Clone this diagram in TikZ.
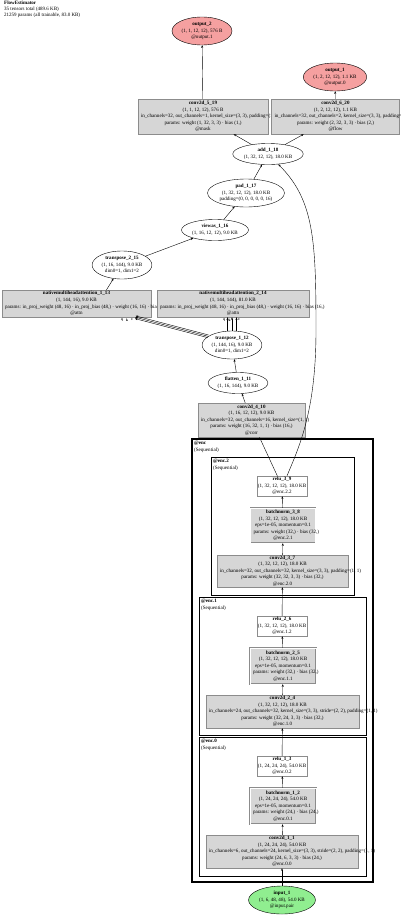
\documentclass[tikz,border=0pt]{standalone}
\usepackage{fontspec}
\setmainfont{Liberation Serif}
\usetikzlibrary{arrows.meta,shapes.geometric}
\newcommand{\zl}[1]{\makebox[0pt][c]{#1}}
\newcommand{\zll}[2]{\makebox[0pt][l]{\hspace*{-#1pt}#2}}
\definecolor{boxfill}{HTML}{D6D6D6}
\definecolor{boxline}{HTML}{8C8C8C}
\definecolor{outfill}{HTML}{F5A0A0}
\definecolor{infill}{HTML}{90EE90}
\tikzset{
  every node/.style={font=\fontsize{5.05}{6.6}\selectfont},
  gbox/.style={rectangle, draw=boxline, fill=boxfill, line width=0.45pt, inner sep=0pt, align=center},
  wbox/.style={gbox, fill=white},
  dbox/.style={gbox, double=white, double distance=0.9pt},
  oval/.style={ellipse, draw=black, line width=0.4pt, inner sep=0.8pt, align=center},
  edge/.style={draw=black, line width=0.4pt, -{Stealth[length=2.6pt,width=2pt]}},
  cluster/.style={draw=black, line width=1pt},
  clabel/.style={anchor=north west, align=left, inner sep=0pt},
  elabel/.style={inner sep=0pt, font=\fontsize{3.6}{4}\selectfont\bfseries}
}
\begin{document}
\begin{tikzpicture}[x=1pt,y=-1pt]
\useasboundingbox (0,0) rectangle (400,916);
\fill[white] (0,0) rectangle (400,916);

% title
\node[anchor=north west, align=left, inner sep=0pt, font=\fontsize{5}{5.7}\selectfont] (title) at (4,1)
  {\textbf{FlowEstimator}\\35 tensors total (489.6 KB)\\21259 params (all trainable, 83.0 KB)};

% clusters
\draw[cluster, line width=1.6pt] (192,439) rectangle (373,882);
\draw[cluster] (211,457) rectangle (354,595);
\draw[cluster] (199,597) rectangle (366,735);
\draw[cluster] (199,737) rectangle (366,876);
\node[clabel] (lenc) at (194,441) {\textbf{@enc}\\(Sequential)};
\node[clabel] (lenc2) at (213,459) {\textbf{@enc.2}\\(Sequential)};
\node[clabel] (lenc1) at (201,599) {\textbf{@enc.1}\\(Sequential)};
\node[clabel] (lenc0) at (201,739) {\textbf{@enc.0}\\(Sequential)};

% outputs
\node[oval, fill=outfill, minimum height=28pt] (out2) at (202,31)
  {\textbf{output\_2}\\(1, 1, 12, 12), 576 B\\@output.1};
\node[oval, fill=outfill, minimum height=28pt] (out1) at (335,77)
  {\textbf{output\_1}\\(1, 2, 12, 12), 1.1 KB\\@output.0};

% head convs
\node[gbox, minimum width=130pt, minimum height=35pt] (c519) at (203,116.5)
  {\zl{\textbf{conv2d\_5\_19}}\\\zl{(1, 1, 12, 12), 576 B}\\\zll{62}{in\_channels=32, out\_channels=1, kernel\_size=(3, 3), padding=(1, 1)}\\\zl{params: weight (1, 32, 3, 3) · bias (1,)}\\\zl{@mask}};
\node[gbox, minimum width=128pt, minimum height=35pt] (c620) at (335.5,116.5)
  {\zl{\textbf{conv2d\_6\_20}}\\\zl{(1, 2, 12, 12), 1.1 KB}\\\zll{61}{in\_channels=32, out\_channels=2, kernel\_size=(3, 3), padding=(1, 1)}\\\zl{params: weight (2, 32, 3, 3) · bias (2,)}\\\zl{@flow}};

\node[oval, minimum height=21pt] (add) at (268,154)
  {\textbf{add\_1\_18}\\(1, 32, 12, 12), 18.0 KB};
\node[oval, minimum height=28pt] (pad) at (246,193)
  {\textbf{pad\_1\_17}\\(1, 32, 12, 12), 18.0 KB\\padding=(0, 0, 0, 0, 0, 16)};
\node[oval, minimum height=21pt] (viewas) at (215,230)
  {\textbf{viewas\_1\_16}\\(1, 16, 12, 12), 9.0 KB};
\node[oval, minimum height=28pt] (t215) at (122,265)
  {\textbf{transpose\_2\_15}\\(1, 16, 144), 9.0 KB\\dim0=1, dim1=2};

% attention
\node[gbox, minimum width=149pt, minimum height=27pt] (nma113) at (76.5,303.5)
  {\zl{\textbf{nativemultiheadattention\_1\_13}}\\\zl{(1, 144, 16), 9.0 KB}\\\zll{71.5}{params: in\_proj\_weight (48, 16) · in\_proj\_bias (48,) · weight (16, 16) · bias (16,)}\\\zl{@attn}};
\node[gbox, minimum width=152pt, minimum height=27pt] (nma214) at (233,303.5)
  {\zl{\textbf{nativemultiheadattention\_2\_14}}\\\zl{(1, 144, 144), 81.0 KB}\\\zll{73}{params: in\_proj\_weight (48, 16) · in\_proj\_bias (48,) · weight (16, 16) · bias (16,)}\\\zl{@attn}};

\node[oval, minimum height=28pt] (t112) at (232,345)
  {\textbf{transpose\_1\_12}\\(1, 144, 16), 9.0 KB\\dim0=1, dim1=2};
\node[oval, minimum height=21pt] (flatten) at (238,383)
  {\textbf{flatten\_1\_11}\\(1, 16, 144), 9.0 KB};
\node[gbox, minimum width=107pt, minimum height=34pt] (c410) at (251.5,420)
  {\zl{\textbf{conv2d\_4\_10}}\\\zl{(1, 16, 12, 12), 9.0 KB}\\\zll{50.5}{in\_channels=32, out\_channels=16, kernel\_size=(1, 1)}\\\zl{params: weight (16, 32, 1, 1) · bias (16,)}\\\zl{@corr}};

% enc.2
\node[wbox, minimum width=50pt, minimum height=20pt] (relu39) at (282,486)
  {\zl{\textbf{relu\_3\_9}}\\\zl{(1, 32, 12, 12), 18.0 KB}\\\zl{@enc.2.2}};
\node[dbox, minimum width=65pt, minimum height=35pt] (bn38) at (283,525.5)
  {\zl{\textbf{batchnorm\_3\_8}}\\\zl{(1, 32, 12, 12), 18.0 KB}\\\zl{eps=1e-05, momentum=0.1}\\\zll{29.5}{params: weight (32,) · bias (32,)}\\\zl{@enc.2.1}};
\node[gbox, minimum width=131pt, minimum height=32pt] (c37) at (282.5,571)
  {\zl{\textbf{conv2d\_3\_7}}\\\zl{(1, 32, 12, 12), 18.0 KB}\\\zll{62.5}{in\_channels=32, out\_channels=32, kernel\_size=(3, 3), padding=(1, 1)}\\\zl{params: weight (32, 32, 3, 3) · bias (32,)}\\\zl{@enc.2.0}};

% enc.1
\node[wbox, minimum width=50pt, minimum height=20pt] (relu26) at (282,626)
  {\zl{\textbf{relu\_2\_6}}\\\zl{(1, 32, 12, 12), 18.0 KB}\\\zl{@enc.1.2}};
\node[dbox, minimum width=66pt, minimum height=36pt] (bn25) at (283,666)
  {\zl{\textbf{batchnorm\_2\_5}}\\\zl{(1, 32, 12, 12), 18.0 KB}\\\zl{eps=1e-05, momentum=0.1}\\\zll{30}{params: weight (32,) · bias (32,)}\\\zl{@enc.1.1}};
\node[gbox, minimum width=153pt, minimum height=33pt] (c24) at (282.5,711.5)
  {\zl{\textbf{conv2d\_2\_4}}\\\zl{(1, 32, 12, 12), 18.0 KB}\\\zll{73.5}{in\_channels=24, out\_channels=32, kernel\_size=(3, 3), stride=(2, 2), padding=(1, 1)}\\\zl{params: weight (32, 24, 3, 3) · bias (32,)}\\\zl{@enc.1.0}};

% enc.0
\node[wbox, minimum width=50pt, minimum height=20pt] (relu13) at (282,766)
  {\zl{\textbf{relu\_1\_3}}\\\zl{(1, 24, 24, 24), 54.0 KB}\\\zl{@enc.0.2}};
\node[dbox, minimum width=66pt, minimum height=36pt] (bn12) at (283,806)
  {\zl{\textbf{batchnorm\_1\_2}}\\\zl{(1, 24, 24, 24), 54.0 KB}\\\zl{eps=1e-05, momentum=0.1}\\\zll{30}{params: weight (24,) · bias (24,)}\\\zl{@enc.0.1}};
\node[gbox, minimum width=152pt, minimum height=33pt] (c11) at (282,851.5)
  {\zl{\textbf{conv2d\_1\_1}}\\\zl{(1, 24, 24, 24), 54.0 KB}\\\zll{73}{in\_channels=6, out\_channels=24, kernel\_size=(3, 3), stride=(2, 2), padding=(1, 1)}\\\zl{params: weight (24, 6, 3, 3) · bias (24,)}\\\zl{@enc.0.0}};

\node[oval, fill=infill, minimum height=28pt] (input) at (282,900)
  {\textbf{input\_1}\\(1, 6, 48, 48), 54.0 KB\\@input.pair};

% edges
\draw[edge] (c519) -- (out2);
\draw[edge] (c620) -- (out1);
\draw[edge] (add) -- (c519);
\draw[edge] (add) -- (c620);
\draw[edge] (pad) -- (add);
\draw[edge] (viewas) -- (pad);
\draw[edge] (t215) -- (viewas);
\draw[edge] ([xshift=30pt]nma113.north) -- (t215);
\foreach \dx in {-4.5,0,4.5}
  \draw[edge] ([xshift=\dx pt]t112.north) -- ([xshift=\dx pt]t112.north |- nma214.south);
\foreach \ox/\oy in {-0.36/-1.35,0/0,0.36/1.35}
  \draw[edge] ([shift={(\ox pt,\oy pt)}]t112.160) -- ([shift={(\ox pt,\oy pt)},xshift=-16pt]nma113.south east);
\node[elabel, anchor=north] (lq1) at (122,318.5) {q};
\node[elabel, anchor=north] (lk1) at (127,318.5) {k};
\node[elabel, anchor=north] (lv1) at (132,318.5) {v};
\node[elabel, anchor=north] (lq2) at (224,318.5) {q};
\node[elabel, anchor=north] (lk2) at (229.5,318.5) {k};
\node[elabel, anchor=north] (lv2) at (239,318.5) {v};
\draw[edge] (flatten) -- (t112);
\draw[edge] (c410) -- (flatten);
\draw[edge] (relu39) -- (c410);
\coordinate (skA) at (316,330);
\draw[edge] ([xshift=5pt]relu39.north) .. controls (300,445) and (316,410) .. (skA)
  .. controls (316,240) and (314,200) .. (add.-45);
\draw[edge] (bn38) -- (relu39);
\draw[edge] (c37) -- (bn38);
\draw[edge] (relu26) -- (c37);
\draw[edge] (bn25) -- (relu26);
\draw[edge] (c24) -- (bn25);
\draw[edge] (relu13) -- (c24);
\draw[edge] (bn12) -- (relu13);
\draw[edge] (c11) -- (bn12);
\draw[edge] (input) -- (c11);
\end{tikzpicture}
\end{document}
